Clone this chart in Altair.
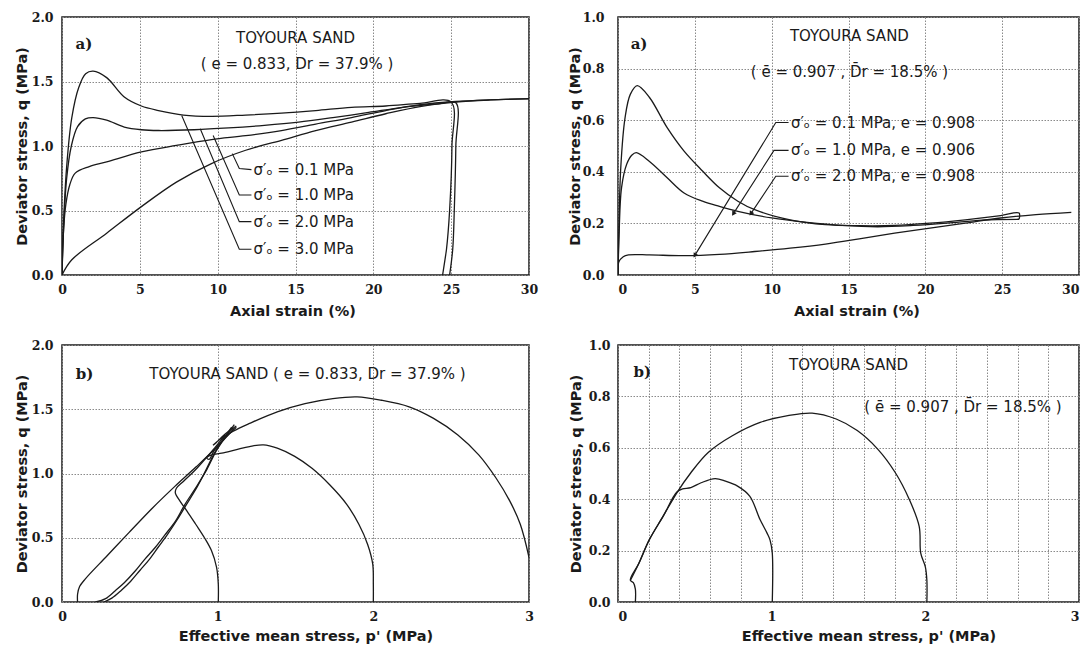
import math
import altair as alt
import pandas as pd

# ---------------- Top-left: stress-strain, e = 0.833 ----------------
TL_S30_X = [0, 0.07, 0.3, 0.63, 1.08, 1.52, 2.0, 2.87, 4.0, 5.1, 6.2, 7.8, 9.6, 11.8, 14.1, 16.3, 18.6, 20.8, 23.0, 25.0, 25.05, 24.9, 24.7, 24.45]
TL_S30_Y = [0, 0.32, 0.84, 1.22, 1.455, 1.56, 1.58, 1.53, 1.38, 1.31, 1.275, 1.24, 1.23, 1.24, 1.255, 1.275, 1.30, 1.31, 1.33, 1.34, 1.0, 0.5, 0.2, 0.0]
TL_S20_X = [0, 0.1, 0.3, 0.6, 1.0, 1.5, 2.0, 2.87, 4.0, 5.1, 6.2, 8.5, 10.7, 13.0, 15.2, 17.4, 19.7, 21.9, 24.2, 25.3, 25.3, 25.2, 25.1, 24.9]
TL_S20_Y = [0, 0.35, 0.75, 1.0, 1.15, 1.21, 1.22, 1.20, 1.147, 1.126, 1.12, 1.126, 1.14, 1.16, 1.185, 1.22, 1.26, 1.30, 1.327, 1.335, 1.0, 0.5, 0.2, 0.0]
TL_S10_X = [0, 0.1, 0.25, 0.5, 0.85, 1.75, 2.87, 5.1, 7.35, 9.6, 11.8, 14.1, 16.3, 18.6, 20.8, 23.0, 25.3, 27.5, 30]
TL_S10_Y = [0, 0.35, 0.55, 0.7, 0.79, 0.84, 0.877, 0.954, 1.005, 1.05, 1.08, 1.12, 1.17, 1.22, 1.275, 1.32, 1.345, 1.357, 1.365]
TL_S01_X = [0, 0.63, 2.87, 5.1, 7.35, 9.6, 11.8, 14.1, 16.3, 18.6, 20.8, 23.0, 25.3, 27.5, 30]
TL_S01_Y = [0, 0.118, 0.324, 0.53, 0.72, 0.864, 0.967, 1.044, 1.12, 1.185, 1.25, 1.306, 1.34, 1.357, 1.368]
TL_LEAD_01_X = [10.94, 11.39, 12.17]
TL_LEAD_01_Y = [0.941, 0.825, 0.817]
TL_LEAD_10_X = [9.71, 11.39, 12.17]
TL_LEAD_10_Y = [1.082, 0.62, 0.62]
TL_LEAD_20_X = [8.88, 11.39, 12.17]
TL_LEAD_20_Y = [1.134, 0.414, 0.414]
TL_LEAD_30_X = [7.69, 11.39, 12.17]
TL_LEAD_30_Y = [1.237, 0.2, 0.2]
TL_LABELS = ["σ′ₒ = 0.1 MPa", "σ′ₒ = 1.0 MPa", "σ′ₒ = 2.0 MPa", "σ′ₒ = 3.0 MPa"]
TL_LABEL_X = [12.3, 12.3, 12.3, 12.3]
TL_LABEL_Y = [0.817, 0.62, 0.414, 0.2]
TL_TITLES = ["TOYOURA SAND", "( e = 0.833, Dr = 37.9% )"]
TL_TITLE_X = [15.0, 15.1]
TL_TITLE_Y = [1.84, 1.635]
TL_TAG = ["a)"]
TL_TAG_X = [1.41]
TL_TAG_Y = [1.79]

# ---------------- Top-right: stress-strain, e = 0.907 ----------------
TR_S01_X = [0, 0.05, 0.34, 0.68, 2.05, 4.3, 6.6, 8.9, 11.2, 13.5, 15.7, 18.0, 20.3, 22.6, 24.9, 27.2, 29.5]
TR_S01_Y = [0, 0.05, 0.071, 0.078, 0.078, 0.075, 0.08, 0.091, 0.104, 0.12, 0.14, 0.162, 0.182, 0.201, 0.221, 0.234, 0.243]
TR_S10_X = [0, 0.07, 0.23, 0.57, 0.91, 1.19, 2.05, 3.2, 4.3, 5.5, 6.6, 7.8, 10.0, 12.3, 14.6, 16.9, 19.2, 21.4, 23.7, 26.1]
TR_S10_Y = [0, 0.156, 0.338, 0.43, 0.465, 0.474, 0.44, 0.377, 0.318, 0.286, 0.266, 0.247, 0.221, 0.204, 0.192, 0.187, 0.192, 0.201, 0.213, 0.216]
TR_S20_X = [0, 0.05, 0.18, 0.46, 0.8, 1.25, 2.05, 3.2, 4.3, 5.5, 6.6, 7.8, 8.9, 11.2, 13.5, 15.7, 18.0, 20.3, 22.6, 24.9, 26.1, 26.1]
TR_S20_Y = [0, 0.156, 0.416, 0.61, 0.70, 0.734, 0.688, 0.571, 0.48, 0.403, 0.338, 0.286, 0.253, 0.214, 0.195, 0.191, 0.192, 0.201, 0.214, 0.23, 0.24, 0.216]
TR_LEAD_01_X = [11.1, 10.27, 5.02]
TR_LEAD_01_Y = [0.591, 0.591, 0.078]
TR_LEAD_10_X = [11.1, 10.15, 7.53]
TR_LEAD_10_Y = [0.483, 0.483, 0.24]
TR_LEAD_20_X = [11.1, 10.27, 8.67]
TR_LEAD_20_Y = [0.383, 0.383, 0.24]
TR_LABELS = ["σ′ₒ = 0.1 MPa, e = 0.908", "σ′ₒ = 1.0 MPa, e = 0.906", "σ′ₒ = 2.0 MPa, e = 0.908"]
TR_LABEL_X = [11.25, 11.25, 11.25]
TR_LABEL_Y = [0.591, 0.483, 0.383]
TR_TITLES = ["TOYOURA SAND", "( ē = 0.907 , D̄r = 18.5% )"]
TR_TITLE_X = [15.06, 15.06]
TR_TITLE_Y = [0.925, 0.786]
TR_TAG = ["a)"]
TR_TAG_X = [1.37]
TR_TAG_Y = [0.896]

# ---------------- Bottom-left: stress paths, e = 0.833 ----------------
BL_S30_X = [3.0, 2.944, 2.877, 2.788, 2.677, 2.543, 2.387, 2.23, 2.052, 1.896, 1.74, 1.561, 1.383, 1.205, 1.10, 1.02, 0.97, 0.99, 1.05, 1.12]
BL_S30_Y = [0.347, 0.605, 0.785, 0.965, 1.145, 1.30, 1.429, 1.519, 1.57, 1.596, 1.583, 1.544, 1.48, 1.39, 1.33, 1.27, 1.22, 1.24, 1.31, 1.37]
BL_S20_X = [2.0, 2.0, 1.996, 1.963, 1.907, 1.829, 1.718, 1.606, 1.495, 1.383, 1.294, 1.205, 1.115, 1.026, 0.96, 0.93, 0.945, 0.98, 1.048, 1.104]
BL_S20_Y = [0, 0.14, 0.296, 0.45, 0.605, 0.76, 0.914, 1.04, 1.133, 1.197, 1.223, 1.21, 1.184, 1.158, 1.145, 1.12, 1.11, 1.184, 1.274, 1.35]
BL_S10_X = [1.004, 1.004, 0.993, 0.96, 0.915, 0.859, 0.803, 0.758, 0.728, 0.735, 0.781, 0.848, 0.915, 0.98, 1.048]
BL_S10_Y = [0, 0.14, 0.27, 0.40, 0.50, 0.605, 0.708, 0.785, 0.849, 0.885, 0.94, 1.017, 1.107, 1.197, 1.30]
BL_S01_X = [0.1, 0.1, 0.113, 0.15, 0.29, 0.43, 0.58, 0.725, 0.86, 0.99, 1.05, 1.12]
BL_S01_Y = [0, 0.06, 0.12, 0.18, 0.36, 0.54, 0.73, 0.9, 1.05, 1.2, 1.28, 1.36]
BL_U1_X = [1.107, 1.03, 0.99, 0.93, 0.86, 0.79, 0.73, 0.66, 0.60, 0.53, 0.473, 0.40, 0.344, 0.28, 0.215]
BL_U1_Y = [1.38, 1.25, 1.174, 1.03, 0.89, 0.76, 0.632, 0.52, 0.426, 0.33, 0.245, 0.15, 0.09, 0.026, 0.0]
BL_U2_X = [1.09, 1.02, 0.98, 0.93, 0.87, 0.80, 0.74, 0.68, 0.62, 0.56, 0.50, 0.44, 0.38, 0.32, 0.27]
BL_U2_Y = [1.36, 1.24, 1.16, 1.04, 0.90, 0.76, 0.64, 0.53, 0.43, 0.33, 0.245, 0.16, 0.09, 0.03, 0.0]
BL_TITLES = ["TOYOURA SAND ( e = 0.833, Dr = 37.9% )"]
BL_TITLE_X = [1.577]
BL_TITLE_Y = [1.776]
BL_TAG = ["b)"]
BL_TAG_X = [0.145]
BL_TAG_Y = [1.776]

# ---------------- Bottom-right: stress paths, e = 0.907 ----------------
BR_S20_X = [2.01, 2.01, 2.0, 1.97, 1.96, 1.895, 1.805, 1.69, 1.557, 1.42, 1.263, 1.105, 0.925, 0.744, 0.587, 0.474, 0.383, 0.293, 0.203, 0.135, 0.08, 0.10, 0.113, 0.113]
BR_S20_Y = [0, 0.085, 0.137, 0.19, 0.294, 0.40, 0.503, 0.595, 0.667, 0.712, 0.735, 0.725, 0.699, 0.647, 0.582, 0.503, 0.425, 0.333, 0.242, 0.15, 0.085, 0.075, 0.05, 0]
BR_S10_X = [1.004, 1.004, 0.99, 0.97, 0.925, 0.857, 0.778, 0.70, 0.632, 0.541, 0.474, 0.42, 0.383, 0.295, 0.205, 0.137, 0.082]
BR_S10_Y = [0, 0.19, 0.24, 0.268, 0.32, 0.412, 0.451, 0.47, 0.48, 0.464, 0.445, 0.44, 0.428, 0.335, 0.243, 0.152, 0.086]
BR_TITLES = ["TOYOURA SAND", "( ē = 0.907 , D̄r = 18.5% )"]
BR_TITLE_X = [1.5, 2.245]
BR_TITLE_Y = [0.922, 0.758]
BR_TAG = ["b)"]
BR_TAG_X = [0.158]
BR_TAG_Y = [0.895]

STRAIN_TICKS = [0, 5, 10, 15, 20, 25, 30]
P_TICKS = [0, 1, 2, 3]
P_TICKS_FINE = [round(0.2 * k, 1) for k in range(16)]
Q_TICKS_2 = [0, 0.5, 1.0, 1.5, 2.0]
Q_TICKS_1 = [0, 0.2, 0.4, 0.6, 0.8, 1.0]

INK = "#1a1a1a"
SANS = "DejaVu Sans"
SERIF = "DejaVu Serif"


def lines_df(series):
    rows = []
    for name, xs, ys in series:
        for i, (a, b) in enumerate(zip(xs, ys)):
            rows.append({"s": name, "i": i, "x": a, "y": b})
    return pd.DataFrame(rows)


def text_df(texts, xs, ys):
    return pd.DataFrame({"t": texts, "x": xs, "y": ys})


def panel(curves, leaders, tag, centers, lefts, xdom, ydom, xvals, yvals, xtitle,
          w, h, title_dx, lab_pad_y, title_pad_y, xflush, x_title_pad,
          xlabel_expr=None, arrows=False):
    xaxis_kw = dict(values=xvals, title=xtitle, labelPadding=8, titlePadding=x_title_pad,
                    titleX=w / 2 + title_dx, titleAlign="center", labelFlush=xflush)
    if xlabel_expr:
        xaxis_kw["labelExpr"] = xlabel_expr
    else:
        xaxis_kw["format"] = "d"
    X = alt.X("x:Q", scale=alt.Scale(domain=xdom, nice=False, zero=False),
              axis=alt.Axis(**xaxis_kw))
    Y = alt.Y("y:Q", scale=alt.Scale(domain=ydom, nice=False, zero=False),
              axis=alt.Axis(values=yvals, format=".1f", title="Deviator stress, q (MPa)",
                            labelPadding=lab_pad_y, titlePadding=title_pad_y))
    layers = []
    layers.append(
        alt.Chart(lines_df(curves)).mark_line(color=INK, strokeWidth=1.3, clip=True,
                                               interpolate="catmull-rom")
        .encode(x=X, y=Y, detail="s:N", order="i:Q")
    )
    if leaders:
        layers.append(
            alt.Chart(lines_df(leaders)).mark_line(color=INK, strokeWidth=1.1)
            .encode(x=X, y=Y, detail="s:N", order="i:Q")
        )
        if arrows:
            sx = w / (xdom[1] - xdom[0])
            sy = h / (ydom[1] - ydom[0])
            rows = []
            for name, xs, ys in leaders:
                dx = (xs[-1] - xs[-2]) * sx
                dy = -(ys[-1] - ys[-2]) * sy
                ang = math.degrees(math.atan2(dx, -dy)) % 360
                rows.append({"x": xs[-1], "y": ys[-1], "a": ang})
            layers.append(
                alt.Chart(pd.DataFrame(rows)).mark_point(shape="triangle", filled=True,
                                                         color=INK, size=28, opacity=1)
                .encode(x=X, y=Y, angle=alt.Angle("a:Q", scale=None))
            )
    layers.append(
        alt.Chart(text_df(*tag)).mark_text(font=SERIF, fontWeight="bold", fontSize=15,
                                           color=INK, align="center", baseline="middle")
        .encode(x=X, y=Y, text="t:N")
    )
    layers.append(
        alt.Chart(text_df(*centers)).mark_text(font=SANS, fontSize=15, color=INK,
                                               align="center", baseline="middle")
        .encode(x=X, y=Y, text="t:N")
    )
    if lefts:
        layers.append(
            alt.Chart(text_df(*lefts)).mark_text(font=SANS, fontSize=15, color=INK,
                                                 align="left", baseline="middle")
            .encode(x=X, y=Y, text="t:N")
        )
    return alt.layer(*layers).properties(width=w, height=h)


tl = panel(
    curves=[("s30", TL_S30_X, TL_S30_Y), ("s20", TL_S20_X, TL_S20_Y),
            ("s10", TL_S10_X, TL_S10_Y), ("s01", TL_S01_X, TL_S01_Y)],
    leaders=[("l01", TL_LEAD_01_X, TL_LEAD_01_Y), ("l10", TL_LEAD_10_X, TL_LEAD_10_Y),
             ("l20", TL_LEAD_20_X, TL_LEAD_20_Y), ("l30", TL_LEAD_30_X, TL_LEAD_30_Y)],
    tag=(TL_TAG, TL_TAG_X, TL_TAG_Y),
    centers=(TL_TITLES, TL_TITLE_X, TL_TITLE_Y),
    lefts=(TL_LABELS, TL_LABEL_X, TL_LABEL_Y),
    xdom=[0, 30], ydom=[0, 2], xvals=STRAIN_TICKS, yvals=Q_TICKS_2,
    xtitle="Axial strain (%)", w=467, h=258, title_dx=-3,
    lab_pad_y=9, title_pad_y=2, xflush=False, x_title_pad=9,
)

tr = panel(
    curves=[("s01", TR_S01_X, TR_S01_Y), ("s10", TR_S10_X, TR_S10_Y),
            ("s20", TR_S20_X, TR_S20_Y)],
    leaders=[("l01", TR_LEAD_01_X, TR_LEAD_01_Y), ("l10", TR_LEAD_10_X, TR_LEAD_10_Y),
             ("l20", TR_LEAD_20_X, TR_LEAD_20_Y)],
    tag=(TR_TAG, TR_TAG_X, TR_TAG_Y),
    centers=(TR_TITLES, TR_TITLE_X, TR_TITLE_Y),
    lefts=(TR_LABELS, TR_LABEL_X, TR_LABEL_Y),
    xdom=[0, 30], ydom=[0, 1], xvals=STRAIN_TICKS, yvals=Q_TICKS_1,
    xtitle="Axial strain (%)", w=461, h=258, title_dx=8,
    lab_pad_y=14, title_pad_y=0, xflush=4, x_title_pad=9, arrows=True,
)

bl = panel(
    curves=[("s30", BL_S30_X, BL_S30_Y), ("s20", BL_S20_X, BL_S20_Y),
            ("s10", BL_S10_X, BL_S10_Y), ("s01", BL_S01_X, BL_S01_Y),
            ("u1", BL_U1_X, BL_U1_Y), ("u2", BL_U2_X, BL_U2_Y)],
    leaders=None,
    tag=(BL_TAG, BL_TAG_X, BL_TAG_Y),
    centers=(BL_TITLES, BL_TITLE_X, BL_TITLE_Y),
    lefts=None,
    xdom=[0, 3], ydom=[0, 2], xvals=P_TICKS, yvals=Q_TICKS_2,
    xtitle="Effective mean stress, p' (MPa)", w=467, h=257, title_dx=10,
    lab_pad_y=9, title_pad_y=2, xflush=False, x_title_pad=7,
)

br = panel(
    curves=[("s20", BR_S20_X, BR_S20_Y), ("s10", BR_S10_X, BR_S10_Y)],
    leaders=None,
    tag=(BR_TAG, BR_TAG_X, BR_TAG_Y),
    centers=(BR_TITLES, BR_TITLE_X, BR_TITLE_Y),
    lefts=None,
    xdom=[0, 3], ydom=[0, 1], xvals=P_TICKS_FINE, yvals=Q_TICKS_1,
    xtitle="Effective mean stress, p' (MPa)", w=461, h=257, title_dx=20,
    lab_pad_y=8, title_pad_y=5, xflush=4, x_title_pad=7,
    xlabel_expr="abs(datum.value - round(datum.value)) < 0.01 ? format(datum.value, 'd') : ''",
)

chart = alt.ConcatChart(
    concat=[tl, tr, bl, br], columns=2,
    spacing={"row": 70, "column": 89}, bounds="flush",
).properties(
    padding={"left": 5, "top": 2, "right": 0, "bottom": 0},
    background="white",
).configure_view(
    stroke=INK, strokeWidth=1.5,
).configure_axis(
    domain=False, ticks=False,
    grid=True, gridColor="#8a8a8a", gridDash=[1.5, 1.5], gridWidth=1,
    labelFont=SERIF, labelFontWeight="bold", labelFontSize=12.5, labelColor=INK,
    titleFont=SANS, titleFontWeight="bold", titleFontSize=14.5, titleColor=INK,
)

chart.save("out.html", embed_options={"renderer": "svg", "actions": False})
